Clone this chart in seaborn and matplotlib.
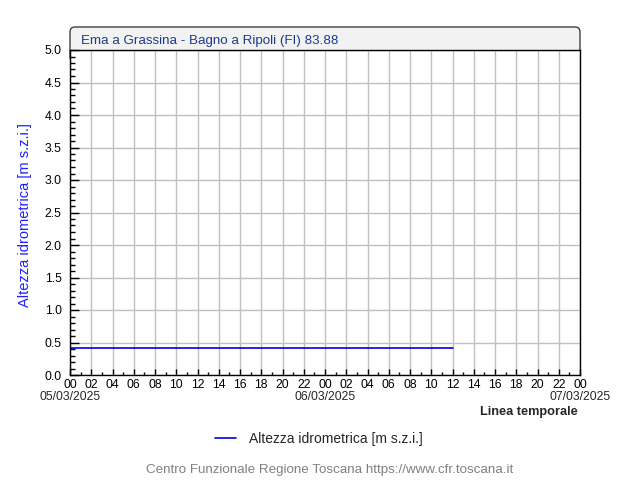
import matplotlib
matplotlib.use("Agg")
import matplotlib.pyplot as plt
import matplotlib.dates as mdates
import matplotlib.ticker as mticker
from matplotlib.patches import FancyBboxPatch
from matplotlib.transforms import IdentityTransform, blended_transform_factory
import pandas as pd
import seaborn as sns

# hydrometric level readings (step changes)
times = ["2025-03-05 00:00", "2025-03-05 22:45", "2025-03-06 12:00"]
levels = [0.42, 0.41, 0.41]

station = "Ema a Grassina - Bagno a Ripoli (FI) 83.88"
y_label = "Altezza idrometrica [m s.z.i.]"
x_label = "Linea temporale"
footer = "Centro Funzionale Regione Toscana https://www.cfr.toscana.it"
x_start, x_end = "2025-03-05 00:00", "2025-03-07 00:00"
day_marks = ["2025-03-05", "2025-03-06", "2025-03-07"]

sns.set_style("white")
plt.rcParams["font.family"] = ["Liberation Sans", "DejaVu Sans"]

df = pd.DataFrame({"time": pd.to_datetime(times), "level": levels})

W, H = 640, 480
fig = plt.figure(figsize=(6.4, 4.8), dpi=100)
ax = fig.add_axes([70 / W, 1 - 375 / H, 510 / W, 325 / H])

sns.lineplot(data=df, x="time", y="level", drawstyle="steps-post",
             color="#0000e6", linewidth=1.2, ax=ax, legend=False)

ax.set_xlim(pd.Timestamp(x_start), pd.Timestamp(x_end))
ax.set_ylim(0, 5)
ax.set_xlabel("")
ax.set_ylabel("")

ax.xaxis.set_major_locator(mdates.HourLocator(interval=2))
ax.xaxis.set_minor_locator(mdates.HourLocator())
ax.xaxis.set_major_formatter(mdates.DateFormatter("%H"))
ax.yaxis.set_major_locator(mticker.MultipleLocator(0.5))
ax.yaxis.set_minor_locator(mticker.MultipleLocator(0.1))
ax.yaxis.set_major_formatter(mticker.FormatStrFormatter("%.1f"))

ax.grid(True, which="major", color="#c0c0c0", linewidth=1)
ax.tick_params(axis="both", which="both", direction="in", colors="black",
               labelsize=8.8, width=1)
ax.tick_params(axis="y", which="major", length=6.5, pad=6)
ax.tick_params(axis="y", which="minor", length=3.6)
ax.tick_params(axis="x", which="major", length=4.3, pad=3)
ax.tick_params(axis="x", which="minor", length=2.2)
ax.tick_params(left=True, bottom=True, which="both")
for s in ax.spines.values():
    s.set_color("black")
    s.set_linewidth(1)

# date labels under the midnight ticks
trans = blended_transform_factory(ax.transData, fig.transFigure)
for d in day_marks:
    t = pd.Timestamp(d)
    ax.text(mdates.date2num(t), 1 - 397 / H, t.strftime("%d/%m/%Y"),
            transform=trans, fontsize=8.8, ha="center", va="center")

# title bar with rounded top corners
box = FancyBboxPatch((70, H - 62), 510, 35, boxstyle="round,pad=0,rounding_size=5",
                     transform=IdentityTransform(), facecolor="#f2f2f2",
                     edgecolor="#404040", linewidth=1, zorder=-1)
fig.patches.append(box)
fig.text(81 / W, 1 - 41 / H, station, color="#1a3c8c", fontsize=9.6, va="center", ha="left")

fig.text(25 / W, 1 - 215 / H, y_label, color="#1f1fff", fontsize=10.5,
         rotation=90, va="center", ha="center")
fig.text(578 / W, 1 - 412 / H, x_label, fontsize=9.2, fontweight="bold",
         va="center", ha="right")

fig.legend(handles=[ax.lines[0]], labels=[y_label], loc="center",
           bbox_to_anchor=(319 / W, 1 - 439 / H), frameon=False,
           fontsize=10, handlelength=1.5, handletextpad=1.0)

fig.text(330 / W, 1 - 470 / H, footer, color="#808080", fontsize=9.6,
         va="center", ha="center")

fig.savefig("out.png", dpi=100)
